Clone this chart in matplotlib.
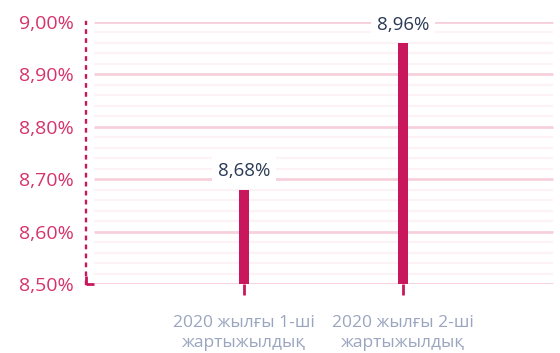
import matplotlib.pyplot as plt
import numpy as np

plt.rcParams['font.family'] = ['Open Sans', 'DejaVu Sans']

categories = ['2020 жылғы 1-ші\nжартыжылдық', '2020 жылғы 2-ші\nжартыжылдық']
values = [8.68, 8.96]
labels = ['8,68%', '8,96%']
yticks = [8.5, 8.6, 8.7, 8.8, 8.9, 9.0]
ytick_labels = ['8,50%', '8,60%', '8,70%', '8,80%', '8,90%', '9,00%']

bar_color = '#c8175d'
pink = '#d6336c'

fig = plt.figure(figsize=(5.6, 3.53), dpi=100)
ax = fig.add_axes([86 / 560, 69 / 353, (560 - 86) / 560, 262 / 353])

x = np.arange(len(categories))
x0, x1 = -0.994, 1.987
ax.set_xlim(x0, x1)
ax.set_ylim(8.5, 9.0)

# gridlines: faint minor, pink major
for v in np.arange(8.52, 9.0, 0.02):
    if abs(round(v * 10) - v * 10) > 1e-6:
        ax.hlines(v, -0.943, 1.943, color='#fdf2f5', lw=1.5, zorder=0)
for v in yticks:
    ax.hlines(v, -0.943, 1.943, color='#f7d0dc', lw=2, zorder=0)

ax.bar(x, np.array(values) - 8.5, bottom=8.5, width=0.068, color=bar_color, zorder=3)

for xi, v, lab in zip(x, values, labels):
    ax.text(xi, v + 0.018, lab, ha='center', va='bottom', fontsize=13.5, color='#2b3a55',
            bbox=dict(boxstyle='square,pad=0.3', fc='white', ec='none'), zorder=4)

for s in ['top', 'right', 'bottom']:
    ax.spines[s].set_visible(False)
ax.spines['left'].set_color(bar_color)
ax.spines['left'].set_linestyle((0, (1, 2.8)))
ax.spines['left'].set_linewidth(1.7)
ax.plot([x0, x0 + 0.05], [8.5, 8.5], color=bar_color, lw=2, clip_on=False, zorder=5,
        solid_capstyle='butt')
ax.plot([x0, x0], [8.5, 8.515], color=bar_color, lw=2, clip_on=False, zorder=5,
        solid_capstyle='butt')

ax.set_yticks(yticks)
ax.set_yticklabels(ytick_labels, fontsize=14, color=pink)
ax.tick_params(axis='y', length=0, pad=9)

ax.set_xticks(x)
ax.set_xticklabels(categories, fontsize=12.5, color='#9aa5bf', linespacing=1.4)
ax.tick_params(axis='x', length=8, width=2, color=bar_color, pad=14)

fig.savefig('out.png', dpi=100)
